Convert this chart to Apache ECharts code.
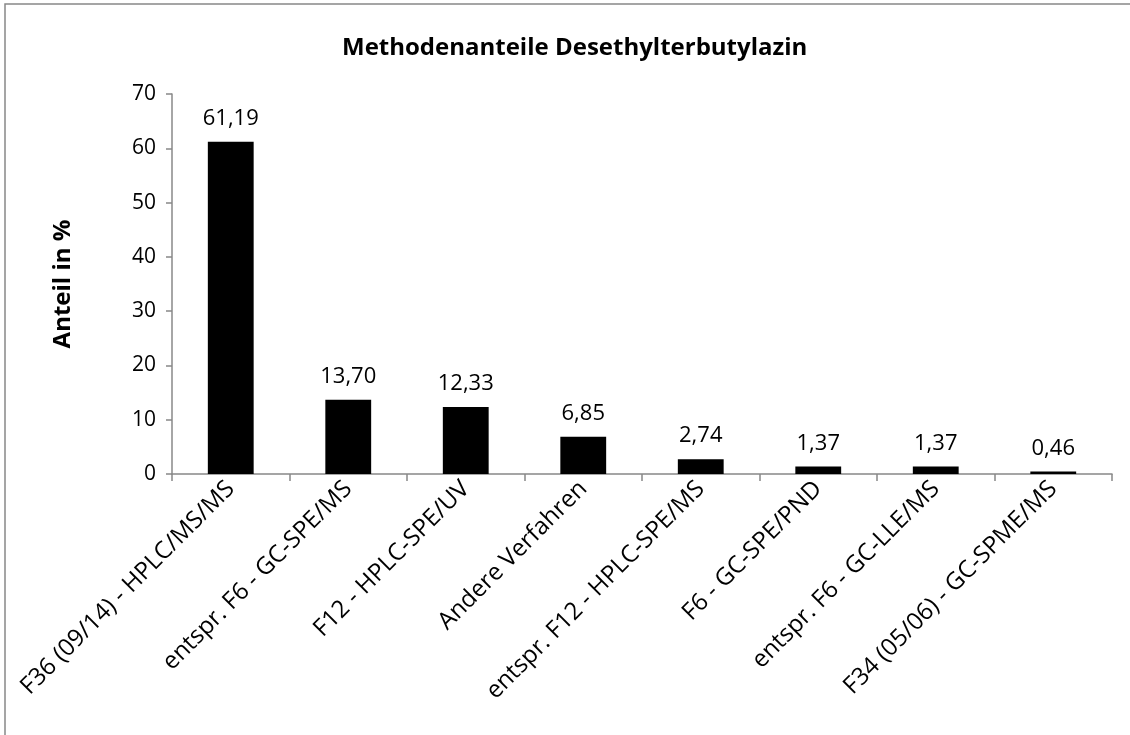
<!DOCTYPE html>
<html><head><meta charset="utf-8">
<script src="https://cdn.jsdelivr.net/npm/echarts@6/dist/echarts.min.js"></script>
<style>html,body{margin:0;padding:0;background:#fff}#c{width:1130px;height:735px}</style>
</head><body><div id="c"></div>
<script>
const categories = ["F36 (09/14) - HPLC/MS/MS","entspr. F6 - GC-SPE/MS","F12 - HPLC-SPE/UV","Andere Verfahren","entspr. F12 - HPLC-SPE/MS","F6 - GC-SPE/PND","entspr. F6 - GC-LLE/MS","F34 (05/06) - GC-SPME/MS"];
const values = [61.19, 13.70, 12.33, 6.85, 2.74, 1.37, 1.37, 0.46];
const yTicks = [0,10,20,30,40,50,60,70];
const titleText = "Methodenanteile Desethylterbutylazin";
const yName = "Anteil in %";

const font = "'Open Sans', sans-serif";
const chart = echarts.init(document.getElementById('c'), null, {renderer:'canvas'});
chart.setOption({
  animation:false,
  backgroundColor:'#fff',
  title:{text:titleText, left:337, top:31, textStyle:{fontFamily:font, fontWeight:'bold', fontSize:24, color:'#000'}},
  graphic:[{type:'rect', shape:{x:5, y:4, width:1140, height:745}, style:{fill:'none', stroke:'#888', lineWidth:1.5}, silent:true}],
  grid:{left:172, right:18, top:94, bottom:261, containLabel:false},
  xAxis:{type:'category', data:categories, boundaryGap:true,
    axisLine:{lineStyle:{color:'#888', width:1.5}},
    axisTick:{show:true, alignWithLabel:false, length:7, lineStyle:{color:'#888', width:1.5}},
    axisLabel:{rotate:45, interval:0, fontFamily:font, fontSize:24, color:'#000', margin:11}},
  yAxis:{type:'value', min:yTicks[0], max:yTicks[yTicks.length-1], interval:10,
    name:yName, nameLocation:'middle', nameGap:97, nameRotate:90,
    nameTextStyle:{fontFamily:font, fontWeight:'bold', fontSize:24, color:'#000'},
    axisLine:{show:true, lineStyle:{color:'#888', width:1.5}},
    axisTick:{show:true, length:6, lineStyle:{color:'#888', width:1.5}},
    splitLine:{show:false},
    axisLabel:{fontFamily:font, fontSize:21, color:'#000', margin:16}},
  series:[{type:'bar', data:values, barWidth:'39%', itemStyle:{color:'#000'},
    label:{show:true, position:'top', distance:12, fontFamily:font, fontSize:22, color:'#000',
      formatter:p=>p.value.toFixed(2).replace('.',',')}}]
});
</script></body></html>
